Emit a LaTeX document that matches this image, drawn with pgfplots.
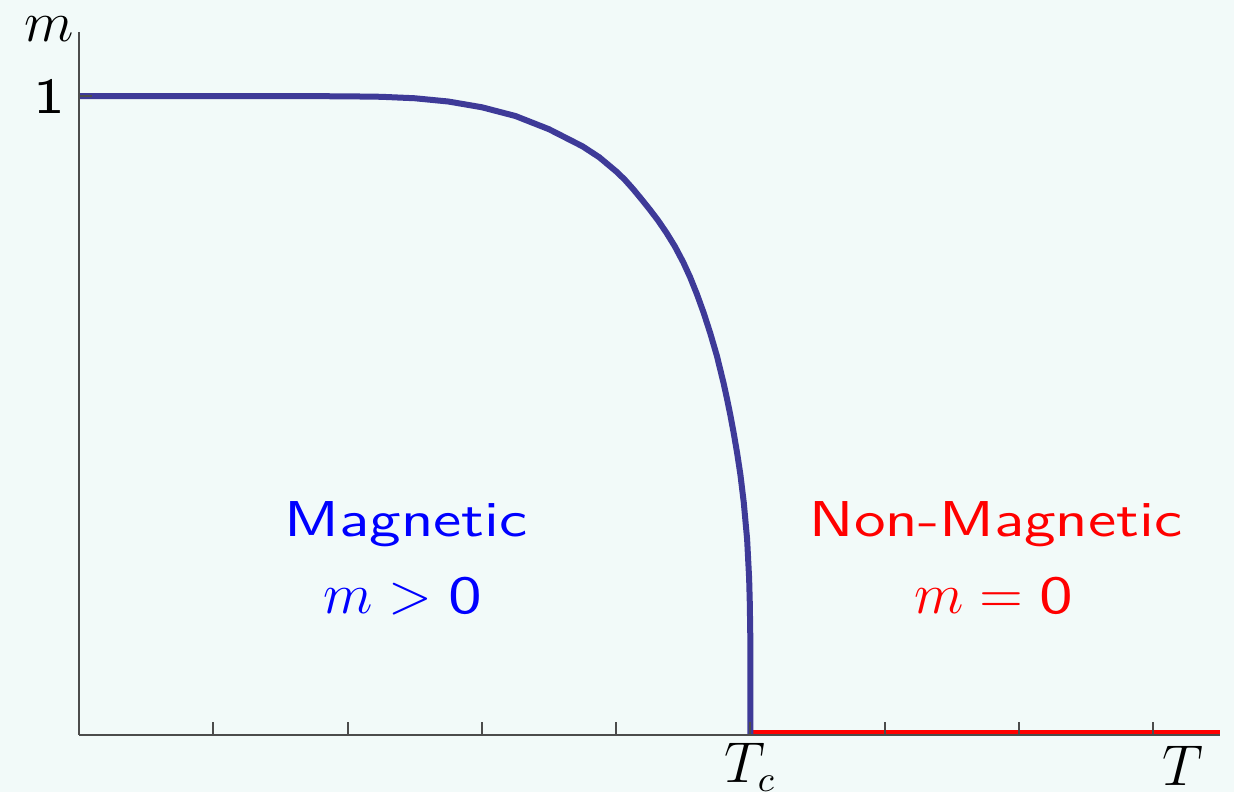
\documentclass[border=0pt]{standalone}
\usepackage{pgfplots}
\pgfplotsset{compat=1.18}
\usepackage{graphicx}
\definecolor{bgcol}{RGB}{242,250,249}
\definecolor{curvecol}{RGB}{62,58,152}
% sans text is set a little wider than its natural shape
\newcommand{\wide}[1]{\scalebox{1.195}[0.933]{#1}}
\begin{document}
\begin{tikzpicture}
\fill[bgcol] (-19.75pt,-14.25pt) rectangle (288.75pt,183.75pt);
\begin{axis}[
  at={(0pt,0pt)}, anchor=south west,
  scale only axis, width=285.25pt, height=175.75pt,
  xmin=0, xmax=8.496, ymin=0, ymax=1.1002,
  axis lines*=left,
  axis line style={black!70, line width=0.5pt},
  axis on top, clip=false,
  tick align=inside,
  major tick length=3.25pt,
  tick style={black!70, line width=0.5pt},
  xtick={1,2,3,4,5,6,7,8},
  xticklabels={,,,,$T_c$,,,},
  xticklabel style={anchor=base, yshift=-11.9pt},
  ytick={1},
  yticklabels={\sffamily\wide{1}},
  tick label style={font=\fontsize{13.5}{16}\selectfont},
]
% m = 0 above the critical temperature
\addplot[red, line width=1.5pt] coordinates {(5,0.003) (8.496,0.003)};
% magnetisation below T_c
\addplot[curvecol, line width=1.5pt] coordinates {
 (0,1.000) (0.5,1.000) (1.0,1.000) (1.5,1.000) (2.0,0.9995) (2.25,0.9988)
 (2.5,0.9965) (2.75,0.9914) (3.0,0.9824) (3.25,0.9687) (3.5,0.9480)
 (3.75,0.9212) (3.875,0.9040) (4.0,0.8820) (4.0625,0.8694) (4.125,0.8547)
 (4.1875,0.8388) (4.25,0.8224) (4.3125,0.8051) (4.375,0.7858)
 (4.4375,0.7645) (4.5,0.7396) (4.55,0.7167) (4.6,0.6906) (4.65,0.6616)
 (4.7,0.6292) (4.75,0.5933) (4.8,0.5504) (4.825,0.5264) (4.85,0.5008)
 (4.875,0.4727) (4.9,0.4420) (4.925,0.4075) (4.95,0.3640) (4.975,0.3064)
 (4.99,0.245) (4.995,0.206) (4.999,0.150) (4.9999,0.090) (5,0)
};
\node[anchor=base, text=blue, font=\fontsize{13.5}{16}\selectfont\sffamily]
  at (axis cs:2.435,0.3114) {\wide{Magnetic}};
\node[anchor=base, text=blue, font=\fontsize{13.5}{16}\selectfont]
  at (axis cs:2.413,0.1894) {$m > \wide{$\mathsf{0}$}$};
\node[anchor=base, text=red, font=\fontsize{13.5}{16}\selectfont\sffamily]
  at (axis cs:6.828,0.3114) {\wide{Non-Magnetic}};
\node[anchor=base, text=red, font=\fontsize{13.5}{16}\selectfont]
  at (axis cs:6.813,0.1894) {$m = \wide{$\mathsf{0}$}$};
\node[anchor=base, font=\fontsize{13.5}{16}\selectfont]
  at (axis cs:8.22,-0.0798) {$T$};
\node[anchor=base, font=\fontsize{13.5}{16}\selectfont]
  at (axis cs:-0.223,1.086) {$m$};
\end{axis}
\pgfresetboundingbox
\path (-19.75pt,-14.25pt) rectangle (288.75pt,183.75pt);
\end{tikzpicture}
\end{document}
